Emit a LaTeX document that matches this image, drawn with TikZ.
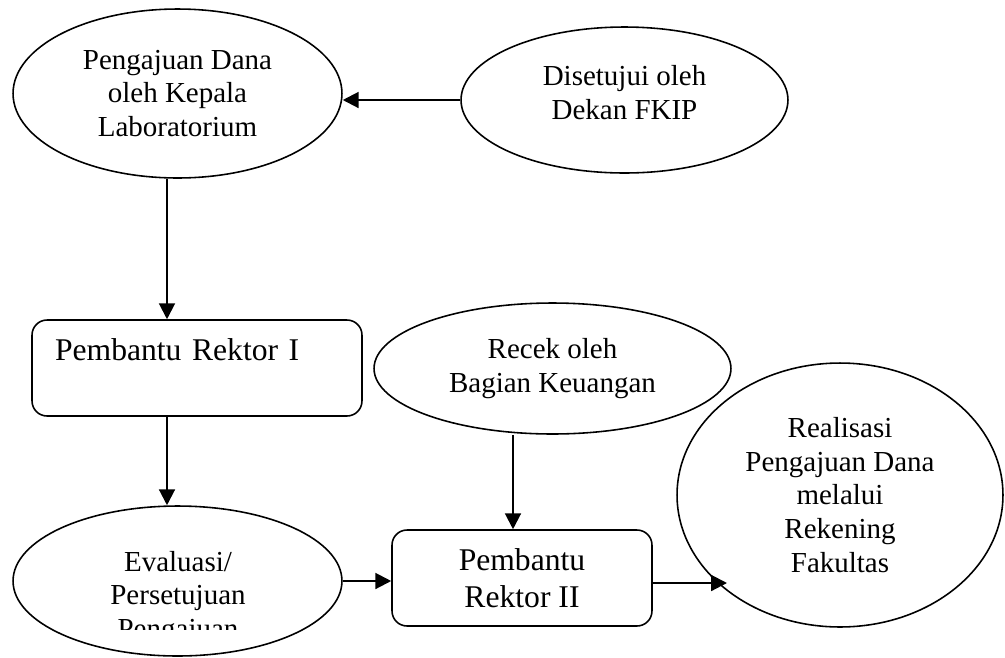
\documentclass[tikz,border=0pt]{standalone}
\usepackage{fontspec}
\setmainfont{Liberation Serif}
\usetikzlibrary{shapes.geometric,arrows.meta}
\tikzset{
	elips/.style={ellipse, draw, line width=0.9pt, inner sep=0pt, align=center,
		font=\fontsize{16.5}{19.3}\selectfont},
	kotak/.style={rectangle, rounded corners=0.3cm, draw, line width=0.9pt, inner sep=0pt,
		align=center, font=\fontsize{18}{21}\selectfont},
	teks/.style={inner sep=0pt, align=center, font=\fontsize{16.5}{19.3}\selectfont}
}
\begin{document}
\begin{tikzpicture}[>={Triangle[length=9pt,width=9pt]}, x=0.02cm, y=-0.02cm]
			% Batas gambar (satuan piksel)
			\useasboundingbox (0,0) rectangle (1005,657);
			
			% Kolom garis tegak
			\coordinate (kol1) at (167,0);
			\coordinate (kol2) at (513,0);
			
			% Baris atas: pengajuan dan persetujuan dekan
			\node[elips, minimum width=6.58cm, minimum height=3.38cm] (pengajuan) at (177.5,93.5)
			{Pengajuan Dana\\oleh Kepala\\Laboratorium};
			\node[elips, minimum width=6.54cm, minimum height=2.92cm,
			label={[teks, name=dekanteks, yshift=4pt]center:{Disetujui oleh\\Dekan FKIP}}]
			(dekan) at (624.5,100) {};
			
			% Pembantu Rektor I dan recek keuangan
			\node[kotak, minimum height=1.92cm, text width=5.68cm, inner xsep=0.46cm, align=left]
			(pr1) at (197,368) {Pembantu Rektor I\\\mbox{}};
			\node[elips, minimum width=7.14cm, minimum height=2.62cm] (recek) at (552.5,368.5)
			{Recek oleh\\Bagian Keuangan};
			
			% Baris bawah
			\node[elips, minimum width=6.58cm, minimum height=3cm] (evaluasi) at (177.5,581) {};
			\begin{scope}
				\clip (0,0) rectangle (1005,629);
				\node[teks] (evalteks) at (178,598) {Evaluasi/\\Persetujuan\\Pengajuan};
			\end{scope}
			\node[kotak, minimum width=5.2cm, minimum height=1.92cm] (pr2) at (522,578)
			{Pembantu\\Rektor II};
			\node[elips, minimum width=6.52cm, minimum height=5.28cm] (realisasi) at (840,495)
			{Realisasi\\Pengajuan Dana\\melalui\\Rekening\\Fakultas};
			\coordinate (masuk) at (727,583);
			
			% Panah alur
			\draw[->, line width=1.2pt] (dekan.west) -- (dekan.west -| pengajuan.east);
			\draw[->, line width=1.2pt] (pengajuan.south -| kol1) -- (pr1.north -| kol1);
			\draw[->, line width=1.2pt] (pr1.south -| kol1) -- (evaluasi.north -| kol1);
			\draw[->, line width=1.2pt] (evaluasi.east) -- (evaluasi.east -| pr2.west);
			\draw[->, line width=1.2pt] (recek.south -| kol2) -- (pr2.north -| kol2);
			\draw[->, line width=1.2pt] (pr2.east |- masuk) -- (masuk);
			
\end{tikzpicture}
\end{document}
